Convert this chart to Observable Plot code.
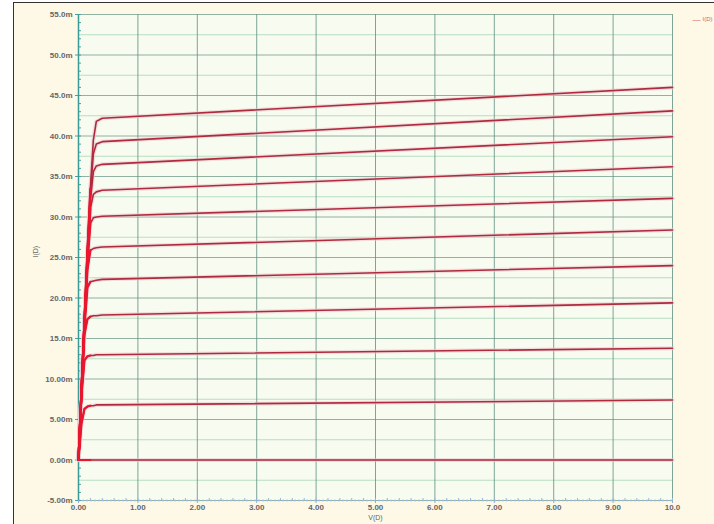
<!DOCTYPE html>
<html>
<head>
<meta charset="utf-8">
<script src="https://cdn.jsdelivr.net/npm/d3@7"></script>
<script src="https://cdn.jsdelivr.net/npm/@observablehq/plot@0.6"></script>
<style>
  html, body { margin: 0; padding: 0; background: #ffffff; }
  #wrap { position: relative; width: 714px; height: 524px; overflow: hidden; }
  #frame { position: absolute; left: 13px; top: 2px; width: 705px; height: 530px; border: 1px solid #333; background: #fdf9e6; }
  #chart { position: absolute; left: 0; top: 0; }
</style>
</head>
<body>
<div id="wrap">
  <div id="frame"></div>
  <div id="chart"></div>
</div>
<script>
// Drain voltage sample points (V)
const vds = [0, 0.05, 0.1, 0.15, 0.2, 0.25, 0.3, 0.4, 10];
// Drain current curves (mA), one per gate step
const id01 = [0, 8.5, 17.0, 25.5, 33.5, 39.5, 41.8, 42.2, 46.0];
const id02 = [0, 8.5, 17.0, 25.5, 33.0, 37.8, 39.0, 39.3, 43.1];
const id03 = [0, 8.5, 17.0, 25.3, 32.0, 35.6, 36.3, 36.5, 39.9];
const id04 = [0, 8.5, 17.0, 25.0, 31.0, 32.8, 33.1, 33.3, 36.2];
const id05 = [0, 8.5, 17.0, 24.5, 29.2, 29.9, 30.0, 30.1, 32.3];
const id06 = [0, 8.5, 16.8, 23.5, 25.9, 26.1, 26.2, 26.3, 28.4];
const id07 = [0, 8.4, 16.5, 21.3, 22.0, 22.1, 22.2, 22.3, 24.0];
const id08 = [0, 8.3, 15.5, 17.4, 17.7, 17.8, 17.8, 17.9, 19.4];
const id09 = [0, 8.0, 12.3, 12.8, 12.9, 12.9, 13.0, 13.0, 13.8];
const id10 = [0, 4.5, 6.3, 6.6, 6.7, 6.7, 6.8, 6.8, 7.4];
const id11 = [0, 0, 0, 0, 0, 0, 0, 0, 0];
const curves = [id01, id02, id03, id04, id05, id06, id07, id08, id09, id10, id11];

// Axis ticks
const xTicks = [0, 1, 2, 3, 4, 5, 6, 7, 8, 9, 10];
const xTickLabels = ["0.00", "1.00", "2.00", "3.00", "4.00", "5.00", "6.00", "7.00", "8.00", "9.00", "10.0"];
const yTicks = [-5, 0, 5, 10, 15, 20, 25, 30, 35, 40, 45, 50, 55];
const yTickLabels = ["-5.00m", "0.00m", "5.00m", "10.00m", "15.0m", "20.0m", "25.0m", "30.0m", "35.0m", "40.0m", "45.0m", "50.0m", "55.0m"];
const yMinor = [-2.5, 2.5, 7.5, 12.5, 17.5, 22.5, 27.5, 32.5, 37.5, 42.5, 47.5, 52.5];
const yTickMarks = d3.range(-5, 55.01, 1);
const xTickMarks = d3.range(0, 10.01, 0.2);

const rows = [];
curves.forEach((c, k) => c.forEach((v, i) => rows.push({curve: k, vd: vds[i], id: v})));
const steep = rows.filter(r => r.vd <= 0.2);

const chart = Plot.plot({
  width: 714,
  height: 524,
  marginLeft: 78,
  marginRight: 42,
  marginTop: 14,
  marginBottom: 24,
  style: {background: "transparent", fontFamily: "Liberation Sans, Arial, sans-serif"},
  x: {domain: [0, 10]},
  y: {domain: [-5, 55]},
  marks: [
    Plot.frame({fill: "#f8fbef", stroke: null}),
    Plot.gridY(yMinor, {stroke: "#a8d8b8", strokeOpacity: 0.8, strokeWidth: 1}),
    Plot.gridY(yTicks, {stroke: "#6f9a88", strokeOpacity: 0.75, strokeWidth: 1}),
    Plot.gridX(xTicks, {stroke: "#5f8f82", strokeOpacity: 0.8, strokeWidth: 1}),
    Plot.ruleY([-5], {stroke: "#9ab8d8", strokeDasharray: "2,2", strokeWidth: 1.5}),
    Plot.axisY(yTicks, {anchor: "left", tickFormat: (d, i) => yTickLabels[i], tickSize: 3, fontSize: 8, fontWeight: "bold", fill: "#666", stroke: "#4aa0a0", label: null, tickPadding: 3}),
    Plot.axisY(yTickMarks, {anchor: "left", tickFormat: () => "", tickSize: -3, stroke: "#4aa0a0", label: null}),
    Plot.axisX(xTicks, {anchor: "bottom", tickFormat: (d, i) => xTickLabels[i], tickSize: 3, fontSize: 8, fontWeight: "bold", fill: "#666", stroke: "#8ab0d0", label: null, tickPadding: 1}),
    Plot.axisX(xTickMarks, {anchor: "bottom", tickFormat: () => "", tickSize: -2, stroke: "#9ab8d8", label: null}),
    Plot.ruleX([0], {stroke: "#3a9a98", strokeWidth: 1.5}),
    Plot.line(rows, {x: "vd", y: "id", z: "curve", stroke: "#e8ccd0", strokeWidth: 4, strokeOpacity: 0.6}),
    Plot.line(rows, {x: "vd", y: "id", z: "curve", stroke: "#b02a3e", strokeWidth: 1.6}),
    Plot.line(steep, {x: "vd", y: "id", z: "curve", stroke: "#e8162e", strokeWidth: 2.2}),
    Plot.text(["V(D)"], {frameAnchor: "bottom", dy: 19, fontSize: 7, fill: "#666"}),
    Plot.text(["I(D)"], {frameAnchor: "left", dx: -43, rotate: -90, fontSize: 7, fill: "#666"}),
    Plot.text(["I(D)"], {frameAnchor: "top-right", dx: 30, dy: 2, fontSize: 6, fill: "#d06070", textAnchor: "start"}),
    Plot.text(["—"], {frameAnchor: "top-right", dx: 20, dy: 2, fontSize: 8, fill: "#d06070", textAnchor: "start"})
  ]
});
document.getElementById("chart").appendChild(chart);
</script>
</body>
</html>
